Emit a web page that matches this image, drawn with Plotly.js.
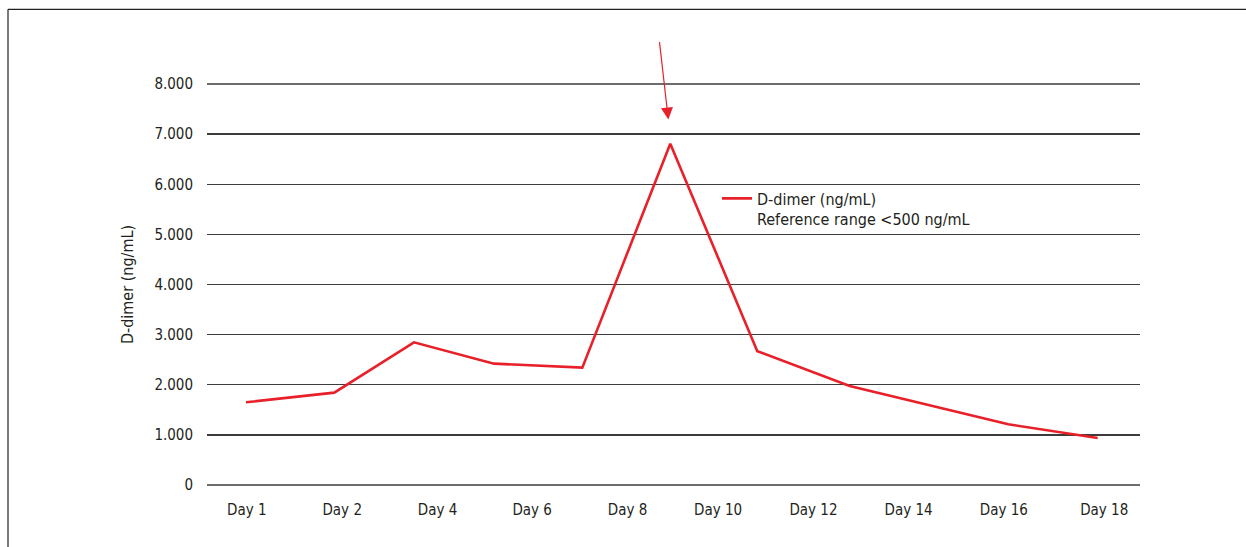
<!DOCTYPE html>
<html>
<head>
<meta charset="utf-8">
<script src="https://cdn.plot.ly/plotly-3.0.1.min.js"></script>
<style>html,body{margin:0;padding:0;background:#fff;}#chart{width:1246px;height:547px;}</style>
</head>
<body>
<div id="chart"></div>
<script>
// Category labels shown under the axis and their positions (axis units)
var dayLabels = ['Day 1','Day 2','Day 4','Day 6','Day 8','Day 10','Day 12','Day 14','Day 16','Day 18'];
var labelPos  = [0.469, 1.594, 2.718, 3.834, 4.958, 6.025, 7.150, 8.272, 9.394, 10.578];
// Measurement positions (axis units) and D-dimer values (ng/mL)
var pointPos    = [0.460, 1.501, 2.440, 3.384, 4.425, 5.462, 6.488, 7.577, 9.447, 10.501];
var dimerValues = [1650, 1843, 2847, 2421, 2342, 6810, 2670, 1975, 1211, 938];
// Y tick values and labels
var yTickVals = [0, 1000, 2000, 3000, 4000, 5000, 6000, 7000, 8000];
var yTickText = ['0', '1.000', '2.000', '3.000', '4.000', '5.000', '6.000', '7.000', '8.000'];
var seriesName = 'D-dimer (ng/mL)<br>Reference range &lt;500 ng/mL';

var FONT = 'DejaVu Sans Condensed, Liberation Sans Narrow, sans-serif';
var TXT = '#231f20';
var FS = 15;
var GRID = '#3c3c3c';

var trace = {
  x: pointPos, y: dimerValues, type: 'scatter', mode: 'lines',
  name: seriesName,
  line: {color: '#e8202a', width: 2.6},
  hoverinfo: 'skip'
};

var layout = {
  width: 1246, height: 547,
  margin: {l: 207, r: 106, t: 84, b: 62, pad: 0},
  paper_bgcolor: '#ffffff', plot_bgcolor: '#ffffff',
  font: {family: FONT, size: FS, color: TXT},
  showlegend: true,
  legend: {
    x: 0.5466, y: 0.757, xanchor: 'left', yanchor: 'top',
    valign: 'top', bgcolor: 'rgba(0,0,0,0)', borderwidth: 0,
    font: {family: FONT, size: 16, color: TXT}
  },
  xaxis: {
    range: [0, 11], showgrid: false, zeroline: false, showline: false,
    tickmode: 'array', tickvals: labelPos, ticktext: dayLabels,
    ticks: 'outside', ticklen: 11, tickcolor: 'rgba(0,0,0,0)',
    tickfont: {family: FONT, size: FS, color: TXT},
    fixedrange: true
  },
  yaxis: {
    range: [0, 8000], showgrid: true, gridcolor: GRID, gridwidth: 1.3,
    zeroline: false, showline: false,
    tickmode: 'array', tickvals: yTickVals, ticktext: yTickText,
    ticks: 'outside', ticklen: 10, tickcolor: 'rgba(0,0,0,0)',
    tickfont: {family: FONT, size: FS, color: TXT},
    title: {text: 'D-dimer (ng/mL)', font: {family: FONT, size: 16, color: TXT}, standoff: 16},
    fixedrange: true
  },
  shapes: [
    {type: 'line', xref: 'paper', yref: 'paper',
     x0: 0, x1: 1, y0: 0, y1: 0, line: {color: GRID, width: 1.3}},
    {type: 'line', xref: 'paper', yref: 'paper',
     x0: 0, x1: 1, y0: 1, y1: 1, line: {color: GRID, width: 1.3}},
    {type: 'line', xref: 'paper', yref: 'paper',
     x0: (8 - 207) / 933, x1: (8 - 207) / 933, y0: (484.7 - 9) / 401, y1: (484.7 - 560) / 401,
     line: {color: '#222', width: 1.2}},
    {type: 'line', xref: 'paper', yref: 'paper',
     x0: (8 - 207) / 933, x1: (1250 - 207) / 933, y0: (484.7 - 9) / 401, y1: (484.7 - 9) / 401,
     line: {color: '#222', width: 1.2}}
  ],
  annotations: [
    {x: 5.439, y: 7290, xref: 'x', yref: 'y', text: '', showarrow: true,
     ax: -9, ay: -79, arrowhead: 2, arrowsize: 2, arrowwidth: 1.2,
     arrowcolor: '#e8202a', standoff: 0}
  ]
};

Plotly.newPlot('chart', [trace], layout, {displayModeBar: false, staticPlot: true});
</script>
</body>
</html>
